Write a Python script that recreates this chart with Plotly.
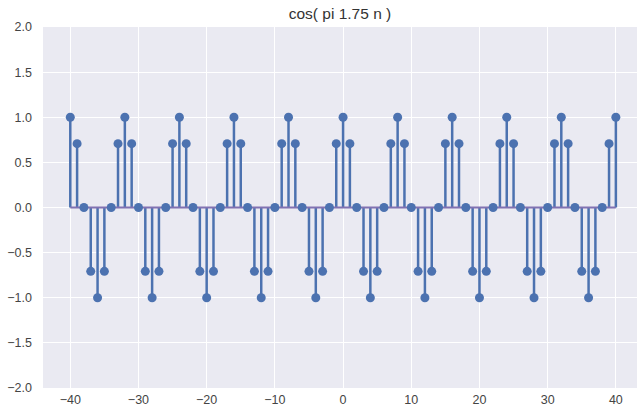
import plotly.graph_objects as go

n_values = list(range(-40, 41))
# values of cos(pi*1.75*n) (period of 8 samples)
y_values = [
    1.0, 0.7071, 0.0, -0.7071, -1.0, -0.7071, 0.0, 0.7071,
    1.0, 0.7071, 0.0, -0.7071, -1.0, -0.7071, 0.0, 0.7071,
    1.0, 0.7071, 0.0, -0.7071, -1.0, -0.7071, 0.0, 0.7071,
    1.0, 0.7071, 0.0, -0.7071, -1.0, -0.7071, 0.0, 0.7071,
    1.0, 0.7071, 0.0, -0.7071, -1.0, -0.7071, 0.0, 0.7071,
    1.0, 0.7071, 0.0, -0.7071, -1.0, -0.7071, 0.0, 0.7071,
    1.0, 0.7071, 0.0, -0.7071, -1.0, -0.7071, 0.0, 0.7071,
    1.0, 0.7071, 0.0, -0.7071, -1.0, -0.7071, 0.0, 0.7071,
    1.0, 0.7071, 0.0, -0.7071, -1.0, -0.7071, 0.0, 0.7071,
    1.0, 0.7071, 0.0, -0.7071, -1.0, -0.7071, 0.0, 0.7071,
    1.0,
]
x_ticks = [-40, -30, -20, -10, 0, 10, 20, 30, 40]
y_ticks = [-2.0, -1.5, -1.0, -0.5, 0.0, 0.5, 1.0, 1.5, 2.0]
title_text = "cos( pi 1.75 n )"

stem_color = "#4C72B0"
base_color = "#8172B2"

sx, sy = [], []
for n, v in zip(n_values, y_values):
    sx += [n, n, None]
    sy += [0, v, None]

fig = go.Figure()
fig.add_trace(go.Scatter(x=sx, y=sy, mode="lines",
                         line=dict(color=stem_color, width=2.5),
                         hoverinfo="skip", showlegend=False))
fig.add_trace(go.Scatter(x=[n_values[0], n_values[-1]], y=[0, 0], mode="lines",
                         line=dict(color=base_color, width=2),
                         hoverinfo="skip", showlegend=False))
fig.add_trace(go.Scatter(x=n_values, y=y_values, mode="markers",
                         marker=dict(color=stem_color, size=9),
                         showlegend=False))

fig.update_layout(
    width=637, height=408,
    margin=dict(l=43, r=0, t=27, b=20),
    paper_bgcolor="white",
    plot_bgcolor="#EAEAF2",
    font=dict(family="Liberation Sans, Arial, sans-serif", size=12.5, color="#444444"),
    title=dict(text=title_text, x=0.5, xref="paper", xanchor="center",
               y=1 - 14 / 408, yanchor="middle",
               font=dict(size=15.5, color="#333333")),
    xaxis=dict(range=[-44, 43.1], tickvals=x_ticks, showgrid=True,
               gridcolor="white", gridwidth=1.2, zeroline=False, automargin=False,
               showline=False, ticks="", ticklabelstandoff=2),
    yaxis=dict(range=[-2, 2], tickvals=y_ticks, tickformat=".1f", showgrid=True,
               gridcolor="white", gridwidth=1.2, zeroline=False, automargin=False,
               showline=False, ticks="", ticklabelstandoff=10),
)

fig.write_html("out.html", config={"displayModeBar": False},
               post_script="document.body.style.margin='0';document.body.style.overflow='hidden';")
